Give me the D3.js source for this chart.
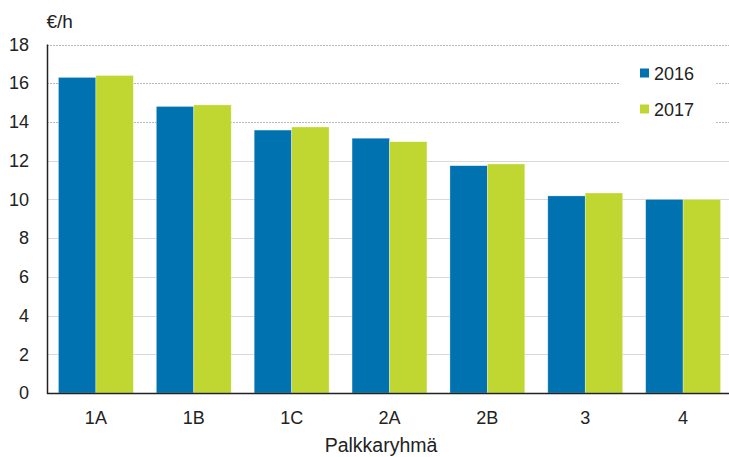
<!DOCTYPE html>
<html><head><meta charset="utf-8">
<script src="https://cdn.jsdelivr.net/npm/d3@7"></script>
<style>body{margin:0;background:#fff}svg{display:block;font-family:"Liberation Sans",Arial,sans-serif}</style>
</head><body><svg id="c" width="729" height="457"></svg>
<script>
const categories = ["1A","1B","1C","2A","2B","3","4"];
const seriesNames = ["2016","2017"];
const values2016 = [16.3,14.8,13.58,13.16,11.74,10.18,10.0];
const values2017 = [16.4,14.88,13.74,12.98,11.83,10.33,10.0];
const yTicks = [0,2,4,6,8,10,12,14,16,18];
const colors = ["#0072b0","#c1d731"];

(function(){
const svg = d3.select("#c");
const FS = 18;
const mLeft = 47, mRight = 732, mTop = 44.5, mBottom = 393;
const x = d3.scaleBand().domain(categories).range([mLeft, mRight]).paddingInner(0.235).paddingOuter(0.117);
const xs = d3.scaleBand().domain(seriesNames).range([0, x.bandwidth()]);
const y = d3.scaleLinear().domain([0,18]).range([mBottom, mTop]);

// grid
svg.append("g").selectAll("line").data(yTicks.filter(d=>d>0)).join("line")
  .attr("x1", mLeft).attr("x2", 729).attr("y1", d=>Math.round(y(d))+0.5).attr("y2", d=>Math.round(y(d))+0.5)
  .attr("stroke", d=> d>=14 ? "#b8b8b8" : "#d9d9d9")
  .attr("stroke-width", 1)
  .attr("stroke-dasharray", d=> d>=14 ? "2,1" : null);

// legend background
const lg = svg.append("g");
lg.append("rect").attr("x",620).attr("y",58).attr("width",96).attr("height",72).attr("fill","#fff");

// bars
const data = categories.map((c,i)=>({c, v:[values2016[i], values2017[i]]}));
const g = svg.append("g").selectAll("g").data(data).join("g").attr("transform", d=>`translate(${x(d.c)},0)`);
g.selectAll("rect").data(d=>d.v.map((v,j)=>({k:seriesNames[j], v, j}))).join("rect")
  .attr("x", d=>xs(d.k)).attr("width", xs.bandwidth())
  .attr("y", d=>y(d.v)).attr("height", d=>mBottom - y(d.v))
  .attr("fill", d=>colors[d.j]).attr("stroke","#fff").attr("stroke-opacity",0.5).attr("stroke-width",0.6);

// axes
const yAxis = d3.axisLeft(y).tickValues(yTicks).tickSize(0).tickPadding(18);
const ya = svg.append("g").attr("transform",`translate(${mLeft},0)`).call(yAxis);
ya.select(".domain").remove();
ya.selectAll("text").attr("font-size",FS).attr("fill","#222").attr("font-family","Liberation Sans, Arial, sans-serif");

const xAxis = d3.axisBottom(x).tickSize(0).tickPadding(18);
const xa = svg.append("g").attr("transform",`translate(0,${mBottom})`).call(xAxis);
xa.select(".domain").remove();
xa.selectAll("text").attr("font-size",FS).attr("fill","#222").attr("font-family","Liberation Sans, Arial, sans-serif");

svg.append("line").attr("x1",mLeft+0.5).attr("x2",mLeft+0.5).attr("y1",mTop).attr("y2",mBottom+1).attr("stroke","#222").attr("stroke-width",1.5);
svg.append("line").attr("x1",mLeft).attr("x2",729).attr("y1",mBottom+0.5).attr("y2",mBottom+0.5).attr("stroke","#222").attr("stroke-width",1.5);

svg.append("text").attr("x",46.5).attr("y",28).attr("font-size",19).attr("fill","#222").text("€/h");
svg.append("text").attr("x",381).attr("y",452).attr("text-anchor","middle").attr("font-size",19.5).attr("fill","#222").text("Palkkaryhmä");

// legend
seriesNames.forEach((s,i)=>{
  const ly = 68.5 + i*36;
  lg.append("rect").attr("x",640).attr("y",ly).attr("width",9).attr("height",9).attr("fill",colors[i]);
  lg.append("text").attr("x",654).attr("y",ly+11).attr("font-size",FS).attr("fill","#222").text(s);
});
})();
</script></body></html>
